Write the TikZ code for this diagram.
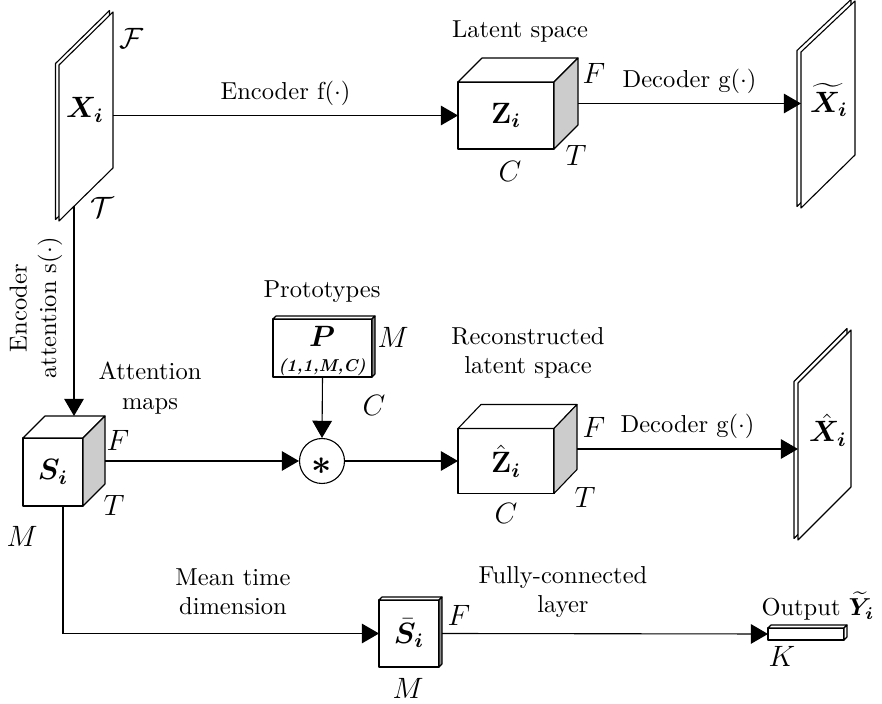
\documentclass[tikz,border=0pt]{standalone}
\usepackage{amsmath,bm}
\usetikzlibrary{calc,arrows.meta}
\def\pxu{0.408pt}
\definecolor{cubeside}{gray}{0.80}
\definecolor{slabside}{gray}{0.55}
\tikzset{
  face/.style={draw, line width=0.45pt, line join=round, fill=white},
  front/.style n args={2}{face, inner sep=0pt, outer sep=0pt,
    minimum width=#1*\pxu, minimum height=#2*\pxu},
  arr/.style={line width=0.45pt, -{Triangle[length=7pt,width=8pt]}},
  dim/.style={font=\large, inner sep=0pt},
  sym/.style={font=\large, inner sep=0pt},
  txt/.style={align=center, inner sep=0pt},
  over/.style={above=4pt, inner sep=0pt},
}
% top and side faces of a box whose front face is node #1, depth (#2,#3)
\newcommand{\boxdepth}[4]{%
  \filldraw[face] (#1.north west) -- ++(#2,#3) -- ($(#1.north east)+(#2,#3)$) -- (#1.north east) -- cycle;
  \filldraw[face,fill=#4] (#1.north east) -- ++(#2,#3) -- ($(#1.south east)+(#2,#3)$) -- (#1.south east) -- cycle;}
\begin{document}
\begin{tikzpicture}[x=\pxu, y=-\pxu]
\useasboundingbox (0,0) rectangle (882,704);

% ---------- input slab X_i ----------
\filldraw[face, shift={(-3.5,-1.5)}] (59,65) -- (113,12) -- (113,168) -- (59,221) -- cycle;
\filldraw[face] (59,65) -- (113,12) -- (113,168) -- (59,221) -- cycle;
\node[sym] (xi) at (85,110) {$\bm{X}_{\bm i}$};
\node[dim] (xi-f) at (132,38) {$\mathcal{F}$};
\node[dim] (xi-t) at (102,207) {$\mathcal{T}$};
\coordinate (xi-out) at (113,115.5);
\coordinate (xi-bot) at (74,206);

% ---------- latent cube Z_i ----------
\node[front={96}{67}, font=\large] (zi) at (506,115.5) {$\mathbf{Z}_{\bm i}$};
\boxdepth{zi}{24}{-24}{cubeside}
\coordinate (zi-side) at ($(zi.east)+(24,-12)$);
\node[txt] (zi-title) at (520,32) {Latent space};
\node[dim] (zi-f) at (594,73) {$F$};
\node[dim] (zi-t) at (576,155) {$T$};
\node[dim] (zi-c) at (510,171) {$C$};

% ---------- reconstruction slab X tilde ----------
\filldraw[face, shift={(-4,-1.5)}] (801,52) -- (855,1) -- (855,155) -- (801,208) -- cycle;
\filldraw[face] (801,52) -- (855,1) -- (855,155) -- (801,208) -- cycle;
\node[sym] (xt) at (829,100) {$\widetilde{\bm{X}}_{\bm i}$};
\coordinate (xt-in) at (801,103.5);

\draw[arr] (xi-out) -- node[over] (enc-lbl) {Encoder f($\cdot$)} (zi.west);
\draw[arr] (zi-side) -- node[over] (dec1-lbl) {Decoder g($\cdot$)} (xt-in);

% ---------- attention cube S_i ----------
\node[front={60}{68}, font=\large] (si) at (53,472) {$\bm{S}_{\bm i}$};
\boxdepth{si}{22}{-22}{cubeside}
\coordinate (si-top) at (74,416);
\coordinate (si-side) at ($(si.east)+(22,-11)$);
\node[dim] (si-f) at (118,440) {$F$};
\node[dim] (si-t) at (114,505) {$T$};
\node[dim] (si-m) at (22,536) {$M$};
\node[txt] (si-title) at (150,388) {Attention\\maps};
\node[txt, rotate=90] (att-lbl) at (36,308) {Encoder\\attention s($\cdot$)};
\draw[arr] (xi-bot) -- (si-top);

% ---------- prototypes P ----------
\node[front={99}{58}] (pp) at (322.5,348) {};
\boxdepth{pp}{3}{-3}{slabside}
\node[sym] (pp-sym) at (322,336) {$\bm{P}$};
\node[font=\scriptsize] (pp-dim) at (322,367) {\textbf{\textit{(1,1,M,C)}}};
\node[txt] (pp-title) at (322,292) {Prototypes};
\node[dim] (pp-m) at (393,337) {$M$};
\node[dim] (pp-c) at (374,405) {$C$};

% ---------- product ----------
\node[draw, circle, line width=0.45pt, minimum size=45*\pxu, inner sep=0pt] (prod) at (322,461) {};
\node[font=\Large] (prod-sym) at (322,466) {$\bm{\ast}$};
\draw[arr] (pp.south) -- (prod.north);
\draw[arr] (si-side) -- (prod.west);

% ---------- reconstructed latent cube ----------
\node[front={96}{65}, font=\large] (zh) at (506,461) {$\hat{\mathbf{Z}}_{\bm i}$};
\boxdepth{zh}{23}{-24}{cubeside}
\coordinate (zh-side) at ($(zh.east)+(23,-12)$);
\node[txt] (zh-title) at (528,353) {Reconstructed\\latent space};
\node[dim] (zh-f) at (594,427) {$F$};
\node[dim] (zh-t) at (585,497) {$T$};
\node[dim] (zh-c) at (506,513) {$C$};
\draw[arr] (prod.east) -- (zh.west);

% ---------- reconstruction slab X hat ----------
\filldraw[face, shift={(-4,-1.5)}] (798,383) -- (851,330) -- (851,487) -- (798,540) -- cycle;
\filldraw[face] (798,383) -- (851,330) -- (851,487) -- (798,540) -- cycle;
\node[sym] (xh) at (828,430) {$\hat{\bm{X}}_{\bm i}$};
\coordinate (xh-in) at (798,449);
\draw[arr] (zh-side) -- node[over] (dec2-lbl) {Decoder g($\cdot$)} (xh-in);

% ---------- mean over time ----------
\node[front={60}{67}, font=\large] (sb) at (409,633.5) {$\bar{\bm{S}}_{\bm i}$};
\boxdepth{sb}{3}{-3}{slabside}
\node[dim] (sb-f) at (459,615) {$F$};
\node[dim] (sb-m) at (408,688) {$M$};
\node[txt] (sb-title) at (233,592) {Mean time\\dimension};
\draw[arr] ($(si.south)+(10,0)$) |- (sb.west);

% ---------- output vector ----------
\node[front={76}{12}] (out) at (806,634) {};
\boxdepth{out}{3}{-3}{white}
\node[txt] (out-title) at (818,606) {Output $\widetilde{\bm{Y}}_{\bm i}$};
\node[dim] (out-k) at (782,656) {$K$};
\node[txt] (fc-title) at (563,592) {Fully-connected\\layer};
\draw[arr] ($(sb.east)+(3,0)$) -- (out.west);
\end{tikzpicture}
\end{document}
